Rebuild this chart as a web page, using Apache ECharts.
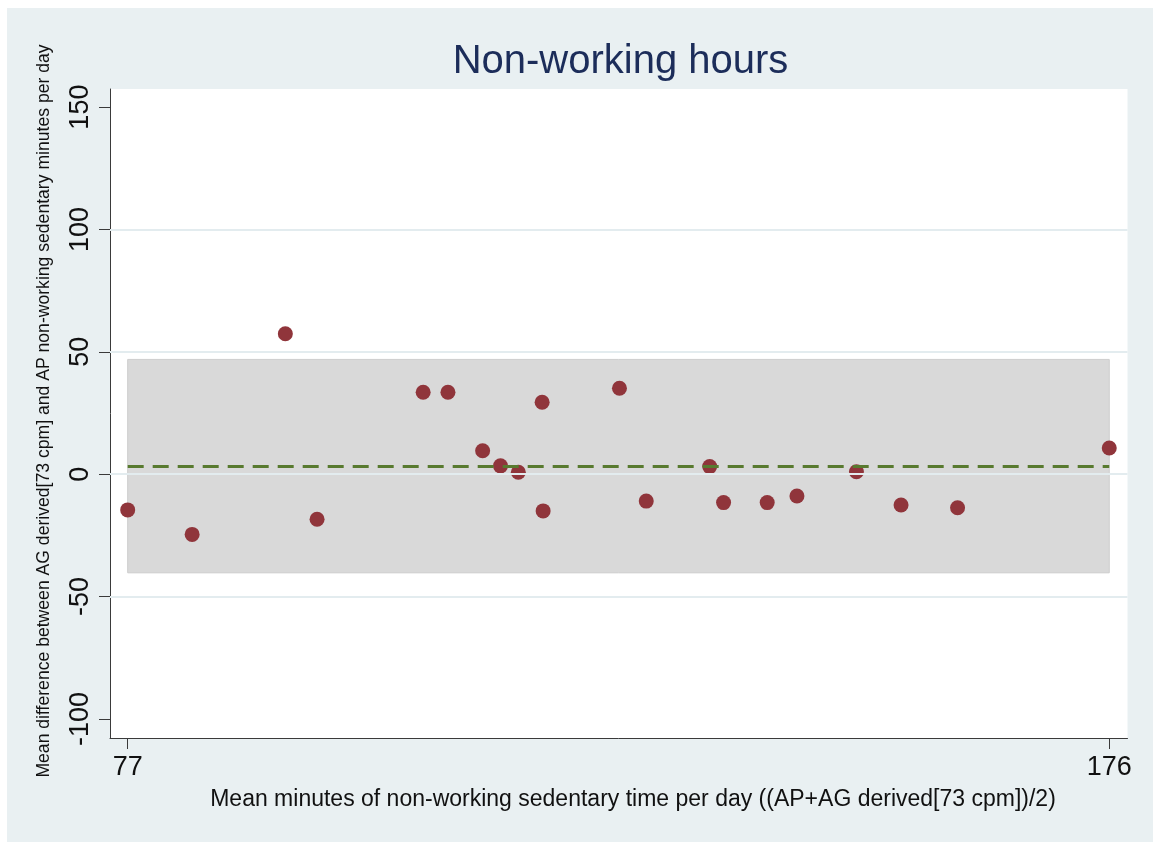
<!DOCTYPE html>
<html>
<head>
<meta charset="utf-8">
<script src="https://cdn.jsdelivr.net/npm/echarts@6/dist/echarts.min.js"></script>
<style>
html,body{margin:0;padding:0;background:#ffffff;}
#wrap{position:relative;width:1153px;height:842px;background:#ffffff;}
#bg{position:absolute;left:7px;top:8px;right:0;bottom:0;background:#e9f0f2;}
#chart{position:absolute;left:0;top:0;width:1153px;height:842px;}
</style>
</head>
<body>
<div id="wrap"><div id="bg"></div><div id="chart"></div></div>
<script>
// Data
const meanX = [77.0, 83.5, 92.9, 96.1, 106.8, 109.3, 112.8, 114.6, 116.4, 118.8, 118.9,
               126.6, 129.3, 135.7, 137.1, 141.5, 144.5, 150.5, 155.0, 160.7, 176.0];
const diffY = [-14.6, -24.6, 57.4, -18.4, 33.5, 33.5, 9.6, 3.4, 0.8, 29.4, -15.0,
               35.1, -11.0, 3.1, -11.6, -11.6, -8.9, 1.0, -12.6, -13.7, 10.7];
const meanDiff = 3.3;
const upperLimit = 46.9;
const lowerLimit = -40.3;
const xTicks = [77, 176];
const yTicks = [-100, -50, 0, 50, 100, 150];
const yGridValues = [-50, 0, 50, 100];
const titleText = 'Non-working hours';
const xTitle = 'Mean minutes of non-working sedentary time per day ((AP+AG derived[73 cpm])/2)';
const yTitle = 'Mean difference between AG derived[73 cpm] and AP non-working sedentary minutes per day';

const points = meanX.map((x, i) => [x, diffY[i]]);
const xMin = Math.min(...xTicks), xMax = Math.max(...xTicks);

const chart = echarts.init(document.getElementById('chart'), null, {renderer: 'canvas'});
const FONT = 'Liberation Sans, Arial, Helvetica, sans-serif';

chart.setOption({
  animation: false,
  backgroundColor: 'transparent',
  grid: {
    left: 110, top: 89, right: 25.5, bottom: 104,
    show: true, backgroundColor: '#ffffff', borderWidth: 0
  },
  xAxis: {
    type: 'value',
    min: 75.215, max: 177.84,
    axisLine: {show: true, onZero: false, lineStyle: {color: '#3a3a3a', width: 1}},
    axisTick: {show: true, length: 11, customValues: xTicks, lineStyle: {color: '#3a3a3a', width: 1}},
    axisLabel: {customValues: xTicks, fontSize: 27, color: '#111', fontFamily: FONT, margin: 16},
    splitLine: {show: false}
  },
  yAxis: {
    type: 'value',
    min: -107.8, max: 157.4,
    axisLine: {show: true, onZero: false, lineStyle: {color: '#3a3a3a', width: 1}},
    axisTick: {show: true, length: 11, customValues: yTicks, lineStyle: {color: '#3a3a3a', width: 1}},
    axisLabel: {customValues: yTicks, rotate: 90, fontSize: 27, color: '#111', fontFamily: FONT, margin: 16},
    splitLine: {show: false}
  },
  graphic: [
    {type: 'text', x: 620.5, y: 62, z: 10,
     style: {text: titleText, font: '40px ' + FONT, fill: '#1c2d5a', textAlign: 'center', textVerticalAlign: 'middle'}},
    {type: 'text', x: 633, y: 800, z: 10,
     style: {text: xTitle, font: '23px ' + FONT, fill: '#111', textAlign: 'center', textVerticalAlign: 'middle'}},
    {type: 'text', x: 44, y: 411, rotation: Math.PI / 2, z: 10,
     style: {text: yTitle, font: '17.6px ' + FONT, fill: '#111', textAlign: 'center', textVerticalAlign: 'middle'}}
  ],
  series: [
    {
      type: 'scatter', data: [], z: 1, silent: true,
      markLine: {
        silent: true, symbol: 'none', label: {show: false}, animation: false,
        lineStyle: {color: '#e3ecef', width: 2, type: 'solid'},
        data: yGridValues.map(v => ({yAxis: v}))
      }
    },
    {
      type: 'scatter', data: [], z: 2, silent: true,
      markArea: {
        silent: true, label: {show: false},
        itemStyle: {color: '#d9d9d9', borderColor: '#cdcdcd', borderWidth: 1},
        data: [[{coord: [xMin, upperLimit]}, {coord: [xMax, lowerLimit]}]]
      }
    },
    {
      type: 'scatter', data: [], z: 3, silent: true,
      markLine: {
        silent: true, symbol: 'none', label: {show: false},
        lineStyle: {color: '#587a2f', width: 3, type: [16, 9]},
        data: [[{coord: [xMin, meanDiff]}, {coord: [xMax, meanDiff]}]]
      }
    },
    {
      type: 'scatter', z: 4,
      data: points,
      symbol: 'circle', symbolSize: 15,
      itemStyle: {color: '#90353b', opacity: 1}
    }
  ]
});
</script>
</body>
</html>
